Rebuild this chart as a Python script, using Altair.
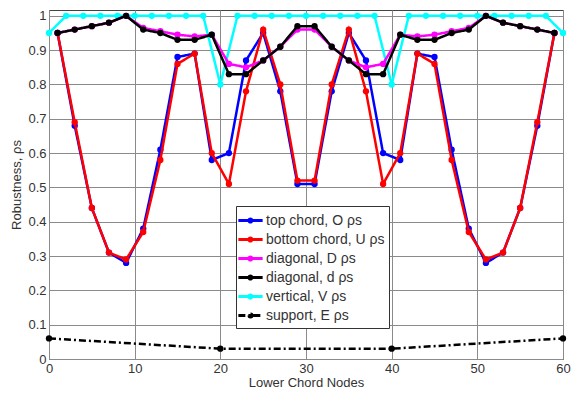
import altair as alt
import pandas as pd

odd_nodes = [1, 3, 5, 7, 9, 11, 13, 15, 17, 19, 21, 23, 25, 27, 29,
             31, 33, 35, 37, 39, 41, 43, 45, 47, 49, 51, 53, 55, 57, 59]
even_nodes = [0, 2, 4, 6, 8, 10, 12, 14, 16, 18, 20, 22, 24, 26, 28, 30,
              32, 34, 36, 38, 40, 42, 44, 46, 48, 50, 52, 54, 56, 58, 60]
support_nodes = [0, 20, 40, 60]

top_chord_O = [0.95, 0.68, 0.44, 0.31, 0.28, 0.38, 0.61, 0.88, 0.89, 0.58,
               0.60, 0.87, 0.95, 0.78, 0.51, 0.51, 0.78, 0.95, 0.87, 0.60,
               0.58, 0.89, 0.88, 0.61, 0.38, 0.28, 0.31, 0.44, 0.68, 0.95]
bottom_chord_U = [0.95, 0.69, 0.44, 0.31, 0.29, 0.37, 0.58, 0.86, 0.89, 0.60,
                  0.51, 0.78, 0.96, 0.80, 0.52, 0.52, 0.80, 0.96, 0.78, 0.51,
                  0.60, 0.89, 0.86, 0.58, 0.37, 0.29, 0.31, 0.44, 0.69, 0.95]
diagonal_D = [0.95, 0.96, 0.97, 0.98, 1.00, 0.965, 0.955, 0.945, 0.94, 0.945,
              0.86, 0.85, 0.87, 0.91, 0.96, 0.96, 0.91, 0.87, 0.85, 0.86,
              0.945, 0.94, 0.945, 0.955, 0.965, 1.00, 0.98, 0.97, 0.96, 0.95]
diagonal_d = [0.95, 0.96, 0.97, 0.98, 1.00, 0.96, 0.95, 0.93, 0.93, 0.945,
              0.83, 0.83, 0.87, 0.91, 0.97, 0.97, 0.91, 0.87, 0.83, 0.83,
              0.945, 0.93, 0.93, 0.95, 0.96, 1.00, 0.98, 0.97, 0.96, 0.95]
vertical_V = [0.95, 1.0, 1.0, 1.0, 1.0, 1.0, 1.0, 1.0, 1.0, 1.0, 0.80,
              1.0, 1.0, 1.0, 1.0, 1.0, 1.0, 1.0, 1.0, 1.0, 0.80,
              1.0, 1.0, 1.0, 1.0, 1.0, 1.0, 1.0, 1.0, 1.0, 0.95]
support_E = [0.06, 0.03, 0.03, 0.06]

names = ["top chord, O \u03c1s", "bottom chord, U \u03c1s", "diagonal, D \u03c1s",
         "diagonal, d \u03c1s", "vertical, V \u03c1s", "support, E \u03c1s"]
colors = ["#0000ff", "#ff0000", "#ff00ff", "#000000", "#00ffff", "#000000"]
dashes = [[1, 0], [1, 0], [1, 0], [1, 0], [1, 0], [7, 3, 2, 3]]

series_data = [
    (names[0], odd_nodes, top_chord_O),
    (names[1], odd_nodes, bottom_chord_U),
    (names[2], odd_nodes, diagonal_D),
    (names[3], odd_nodes, diagonal_d),
    (names[4], even_nodes, vertical_V),
    (names[5], support_nodes, support_E),
]
rows = []
for name, xs, ys in series_data:
    for x, y in zip(xs, ys):
        rows.append({"series": name, "node": x, "value": y})
df = pd.DataFrame(rows)

draw_order = [names[4], names[0], names[1], names[2], names[3], names[5]]

font = "Liberation Sans"
x_enc = alt.X("node:Q", scale=alt.Scale(domain=[0, 60], nice=False),
              axis=alt.Axis(values=[0, 10, 20, 30, 40, 50, 60], title="Lower Chord Nodes",
                            labelFlush=False, titlePadding=1))
y_enc = alt.Y("value:Q", scale=alt.Scale(domain=[0, 1.017], nice=False, zero=False),
              axis=alt.Axis(values=[0, 0.1, 0.2, 0.3, 0.4, 0.5, 0.6, 0.7, 0.8, 0.9, 1.0],
                            format="~g", title="Robustness, \u03c1s", titlePadding=4))
color_enc = alt.Color("series:N", scale=alt.Scale(domain=names, range=colors),
                      legend=alt.Legend(title=None))
dash_enc = alt.StrokeDash("series:N", scale=alt.Scale(domain=names, range=dashes),
                          legend=alt.Legend(title=None))

layers = []
for name in draw_order:
    base = alt.Chart(df).transform_filter(alt.datum.series == name)
    line = base.mark_line(strokeWidth=2.5).encode(x=x_enc, y=y_enc, color=color_enc,
                                                  strokeDash=dash_enc)
    pts = base.mark_circle(size=40, opacity=1).encode(x=x_enc, y=y_enc, color=color_enc)
    layers += [line, pts]

sym = "M-1.35,0H1.35M-0.17,0A0.17,0.17,0,1,0,0.17,0A0.17,0.17,0,1,0,-0.17,0Z"

chart = alt.layer(*layers).properties(
    width=514, height=349,
    autosize=alt.AutoSizeParams(type="none"),
    padding={"left": 41, "top": 2, "right": 9, "bottom": 30},
).configure_view(
    stroke="#444", strokeWidth=1
).configure_axis(
    grid=True, gridColor="#8a8a8a", gridWidth=1, domain=False, ticks=False,
    labelFont=font, labelFontSize=13, labelColor="#333", labelPadding=3,
    titleFont=font, titleFontSize=13, titleFontWeight="normal", titleColor="#333",
).configure_legend(
    orient="none", legendX=187, legendY=196,
    strokeColor="#333", fillColor="white", padding=4,
    symbolType=sym, symbolSize=324, symbolStrokeWidth=3,
    labelFont=font, labelFontSize=14, labelColor="#333", labelOffset=5,
    rowPadding=-1,
)

chart.save("out.html", embed_options={"renderer": "svg", "actions": False})
